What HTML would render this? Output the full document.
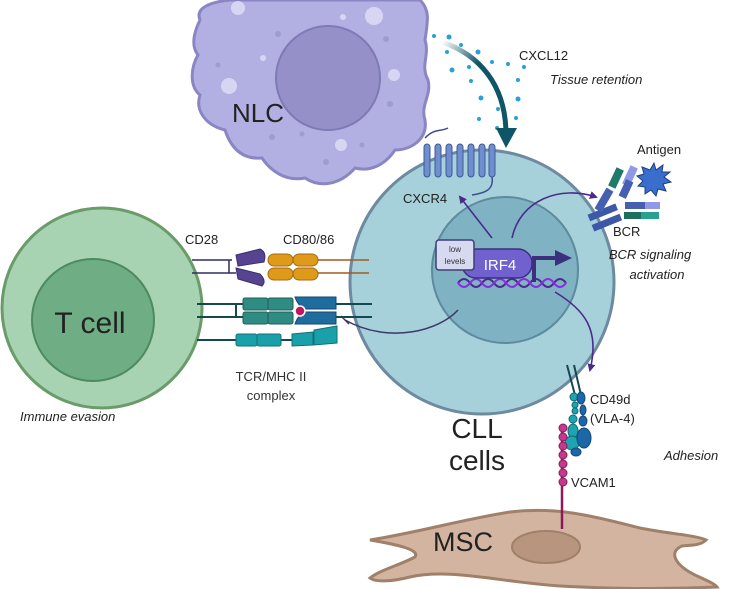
<!DOCTYPE html>
<html><head><meta charset="utf-8"><style>
html,body{margin:0;padding:0;background:#fff;}
svg{display:block;font-family:"Liberation Sans",sans-serif;}
</style></head><body>
<svg width="749" height="589" viewBox="0 0 749 589" xmlns="http://www.w3.org/2000/svg">
<defs>
<linearGradient id="ag" x1="0" y1="0" x2="1" y2="1"><stop offset="0" stop-color="#0e5566" stop-opacity="0"/><stop offset="0.4" stop-color="#0e5566"/><stop offset="1" stop-color="#0e5566"/></linearGradient>
<marker id="pa" markerWidth="8" markerHeight="8" refX="6" refY="4" orient="auto" markerUnits="userSpaceOnUse"><path d="M0,0 L8,4 L0,8 z" fill="#4b2a8e"/></marker>
</defs>
<!-- MSC -->
<path d="M370,540 C420,532 460,520 510,512 C560,506 600,518 640,528 C670,534 695,535 706,540 C700,546 690,545 682,546 C668,552 675,565 695,575 C708,581 715,584 717,587 C650,590 600,588 560,586 C500,582 450,568 410,577 C390,582 375,582 370,578 C380,570 400,565 415,557 C420,550 400,545 370,540 Z" fill="#d2b4a0" stroke="#a08068" stroke-width="3"/>
<ellipse cx="546" cy="547" rx="34" ry="16" fill="#b8957e" stroke="#a08068" stroke-width="2"/>
<text x="433" y="551" font-size="27" fill="#222">MSC</text>
<!-- NLC -->
<path d="M200,20 C195,8 210,2 230,0 L420,0 C430,10 428,20 425,40 C430,55 420,65 428,80 C432,95 420,105 425,120 C428,140 410,150 395,150 C385,165 370,172 355,168 C340,185 320,188 305,178 C285,182 270,170 262,158 C240,160 230,145 225,130 C205,125 195,110 200,95 C188,85 192,65 198,55 C190,45 195,30 200,20 Z" fill="#b2b0e2" stroke="#8a86c4" stroke-width="3"/>
<circle cx="328" cy="78" r="52" fill="#9591c8" stroke="#7e7ab5" stroke-width="2"/>
<g fill="#d7d6f2"><circle cx="238" cy="8" r="7"/><circle cx="374" cy="16" r="9"/><circle cx="229" cy="86" r="8"/><circle cx="394" cy="75" r="6"/><circle cx="341" cy="145" r="6"/><circle cx="263" cy="58" r="3"/><circle cx="343" cy="17" r="3"/></g>
<g fill="#9f9bd0"><circle cx="278" cy="34" r="3"/><circle cx="218" cy="65" r="2.5"/><circle cx="386" cy="39" r="3"/><circle cx="390" cy="104" r="3"/><circle cx="272" cy="137" r="3"/><circle cx="302" cy="134" r="2.5"/><circle cx="326" cy="162" r="3"/><circle cx="362" cy="145" r="2.5"/></g>
<text x="232" y="122" font-size="26" fill="#222">NLC</text>
<!-- CXCL12 dots -->
<g fill="#2aa0d8"><circle cx="434" cy="36" r="2"/><circle cx="449" cy="37" r="2.5"/><circle cx="461" cy="45" r="2"/><circle cx="478" cy="52" r="2.5"/><circle cx="447" cy="52" r="2"/><circle cx="452" cy="70" r="2.5"/><circle cx="469" cy="67" r="2"/><circle cx="492" cy="62" r="2"/><circle cx="508" cy="64" r="2"/><circle cx="524" cy="67" r="2"/><circle cx="481" cy="98" r="2.5"/><circle cx="518" cy="80" r="2"/><circle cx="518" cy="99" r="2.5"/><circle cx="479" cy="119" r="2"/><circle cx="497" cy="128" r="2"/><circle cx="516" cy="118" r="2"/><circle cx="471" cy="81" r="2"/><circle cx="498" cy="109" r="2"/></g>
<path d="M442,42 C480,55 505,85 506,132" fill="none" stroke="url(#ag)" stroke-width="5"/>
<path d="M496,128 L517,128 L506,148 Z" fill="#0e5566"/>
<text x="519" y="60" font-size="13" fill="#222">CXCL12</text>
<text x="550" y="84" font-size="13" font-style="italic" fill="#222">Tissue retention</text>
<!-- T cell -->
<circle cx="102" cy="308" r="100" fill="#a8d3b2" stroke="#6a9c6a" stroke-width="3"/>
<circle cx="93" cy="320" r="61" fill="#6fae84" stroke="#4d8a5e" stroke-width="2"/>
<text x="90" y="333" font-size="30" fill="#222" text-anchor="middle">T cell</text>
<text x="20" y="421" font-size="13" font-style="italic" fill="#222">Immune evasion</text>
<!-- CLL cell -->
<circle cx="482" cy="282" r="132" fill="#a6d0da" stroke="#6e8aa0" stroke-width="3"/>
<circle cx="505" cy="270" r="73" fill="#7fb2c2" stroke="#5d8a9c" stroke-width="2"/>
<text x="477" y="438" font-size="28" fill="#222" text-anchor="middle">CLL</text>
<text x="477" y="470" font-size="28" fill="#222" text-anchor="middle">cells</text>
<!-- CXCR4 -->
<path d="M425,138 C435,128 440,132 448,128" fill="none" stroke="#3d4f8e" stroke-width="1.5"/>
<g fill="#6f8ed0" stroke="#3d5a98" stroke-width="1">
<rect x="424" y="144" width="6" height="33" rx="3"/><rect x="435" y="144" width="6" height="33" rx="3"/><rect x="446" y="144" width="6" height="33" rx="3"/><rect x="457" y="144" width="6" height="33" rx="3"/><rect x="468" y="144" width="6" height="33" rx="3"/><rect x="479" y="144" width="6" height="33" rx="3"/><rect x="489" y="144" width="6" height="33" rx="3"/></g>
<path d="M492,177 C494,190 485,193 472,195" fill="none" stroke="#3d4f8e" stroke-width="1.5"/>
<text x="403" y="203" font-size="13" fill="#222">CXCR4</text>
<!-- IRF4 arrows -->
<path d="M492,238 L460,197" stroke="#4b2a8e" stroke-width="1.6" fill="none" marker-end="url(#pa)"/>
<path d="M512,238 C520,200 560,185 596,197" stroke="#4b2a8e" stroke-width="1.6" fill="none" marker-end="url(#pa)"/>
<path d="M555,292 C585,310 600,330 590,370" stroke="#4b2a8e" stroke-width="1.6" fill="none" marker-end="url(#pa)"/>
<path d="M458,310 C440,330 390,345 345,320" stroke="#3a3a6a" stroke-width="1.5" fill="none"/>
<path d="M341,316 L349,324" stroke="#3a3a6a" stroke-width="1.5"/>
<!-- DNA -->
<path d="M458,283 q6,-8 12,0 t12,0 t12,0 t12,0 t12,0 t12,0 t12,0 t12,0 t12,0" fill="none" stroke="#4b2a8e" stroke-width="2"/>
<path d="M458,283 q6,8 12,0 t12,0 t12,0 t12,0 t12,0 t12,0 t12,0 t12,0 t12,0" fill="none" stroke="#8a2be2" stroke-width="2"/>
<!-- IRF4 -->
<rect x="462" y="249" width="70" height="29" rx="14" fill="#7061cf" stroke="#3b2f80" stroke-width="1.5"/>
<text x="500" y="270" font-size="15" fill="#fff" text-anchor="middle">IRF4</text>
<rect x="436" y="240" width="38" height="30" rx="3" fill="#d6d9ef" stroke="#3b3f70" stroke-width="1.5"/>
<text x="455" y="252" font-size="8" fill="#333" text-anchor="middle">low</text>
<text x="455" y="264" font-size="8" fill="#333" text-anchor="middle">levels</text>
<path d="M534,282 L534,258 L556,258" fill="none" stroke="#3b2f80" stroke-width="4"/>
<path d="M555,250 L572,258 L555,266 Z" fill="#3b2f80"/>
<!-- BCR -->
<g transform="translate(615,208) rotate(-22)">
<rect x="-28" y="-4" width="30" height="7" fill="#3d58a8"/><rect x="-28" y="7" width="30" height="7" fill="#3d58a8"/>
</g>
<rect x="600" y="188" width="8" height="24" fill="#4560b0" transform="rotate(30 604 200)"/>
<rect x="612" y="168" width="8" height="20" fill="#1e7a6a" transform="rotate(25 616 178)"/>
<rect x="626" y="166" width="8" height="20" fill="#8e9ae8" transform="rotate(25 630 176)"/>
<rect x="622" y="180" width="8" height="18" fill="#4560b0" transform="rotate(25 626 189)"/>
<rect x="625" y="202" width="22" height="7" fill="#4560b0"/><rect x="645" y="202" width="15" height="7" fill="#8e9ae8"/>
<rect x="624" y="212" width="18" height="7" fill="#1e6e62"/><rect x="641" y="212" width="18" height="7" fill="#28a090"/>
<polygon points="650,170 654,163 656,170 663,165 662,172 670,172 664,177 671,182 663,184 666,191 658,189 656,196 651,190 645,194 645,187 638,186 643,181 637,176 644,174 642,167" fill="#3a6ecc" stroke="#1e3e80" stroke-width="1"/>
<text x="637" y="154" font-size="13" fill="#222">Antigen</text>
<text x="613" y="236" font-size="13" fill="#222">BCR</text>
<text x="650" y="259" font-size="13" font-style="italic" fill="#222" text-anchor="middle">BCR signaling</text>
<text x="657" y="279" font-size="13" font-style="italic" fill="#222" text-anchor="middle">activation</text>
<!-- CD28 / CD80 -->
<text x="185" y="244" font-size="13" fill="#222">CD28</text>
<text x="283" y="244" font-size="13" fill="#222">CD80/86</text>
<path d="M192,260 L232,260 M192,273 L236,273 M229,260 L229,273" stroke="#2e2e60" stroke-width="1.5"/>
<path d="M236,255 L260,249 Q267,252 264,262 L238,266 Z" fill="#574490" stroke="#3a2e70"/>
<path d="M236,268 L260,274 Q267,281 262,286 L238,279 Z" fill="#574490" stroke="#3a2e70"/>
<g fill="#e09a1a" stroke="#a66a10"><rect x="268" y="254" width="25" height="12" rx="6"/><rect x="293" y="254" width="25" height="12" rx="6"/><rect x="268" y="268" width="25" height="12" rx="6"/><rect x="293" y="268" width="25" height="12" rx="6"/></g>
<path d="M318,260 L369,260 M318,273 L369,273" stroke="#a05a20" stroke-width="1.5"/>
<!-- TCR/MHC -->
<path d="M197,304 L243,304 M197,317 L243,317 M236,304 L236,317" stroke="#124a50" stroke-width="2"/>
<g fill="#2e8c82" stroke="#1e5f58"><rect x="243" y="298" width="25" height="12" rx="2"/><rect x="268" y="298" width="25" height="12" rx="2"/><rect x="243" y="312" width="25" height="12" rx="2"/><rect x="268" y="312" width="25" height="12" rx="2"/></g>
<path d="M295,297 L336,297 L336,309 L305,309 Q298,306 295,297 Z M295,324 L336,324 L336,312 L305,312 Q298,315 295,324 Z" fill="#1f6c9e" stroke="#134a70"/>
<circle cx="300" cy="311" r="5" fill="#c0185a" stroke="#fff" stroke-width="1.5"/>
<path d="M336,304 L372,304 M336,317 L372,317" stroke="#124a50" stroke-width="2"/>
<path d="M197,340 L238,340 M281,340 L292,340" stroke="#124a50" stroke-width="2"/>
<g fill="#1aa0a8" stroke="#137077"><rect x="236" y="334" width="21" height="12" rx="2"/><rect x="257" y="334" width="24" height="12" rx="2"/><path d="M292,334 L313,332 L313,345 L292,346 Z"/><path d="M314,330 L337,326 L337,343 L314,345 Z"/></g>
<text x="271" y="381" font-size="13" fill="#333" text-anchor="middle">TCR/MHC II</text>
<text x="271" y="400" font-size="13" fill="#333" text-anchor="middle">complex</text>
<!-- CD49d / VCAM1 -->
<path d="M567,365 L575,395 M574,365 L581,395" stroke="#124a50" stroke-width="2"/>
<g fill="#1ea3b0" stroke="#136a75"><circle cx="574" cy="397" r="4"/><circle cx="575" cy="405" r="3"/><circle cx="575" cy="411" r="3"/><circle cx="573" cy="419" r="4"/><ellipse cx="573" cy="431" rx="5" ry="7"/><ellipse cx="572" cy="443" rx="7" ry="7"/></g>
<g fill="#1d66a8" stroke="#124a75"><ellipse cx="581" cy="398" rx="4" ry="6"/><ellipse cx="583" cy="410" rx="3" ry="5"/><ellipse cx="583" cy="421" rx="4" ry="5"/><ellipse cx="584" cy="438" rx="7" ry="10"/><ellipse cx="576" cy="452" rx="5" ry="4"/></g>
<path d="M562,430 L562,529" stroke="#8a1a5c" stroke-width="2.5"/>
<g fill="#c23a8e" stroke="#8a1a5c"><circle cx="563" cy="428" r="4"/><circle cx="563" cy="437" r="4"/><circle cx="563" cy="446" r="4"/><circle cx="563" cy="455" r="4"/><circle cx="563" cy="464" r="4"/><circle cx="563" cy="473" r="4"/><circle cx="563" cy="482" r="4"/></g>
<text x="590" y="404" font-size="13" fill="#222">CD49d</text>
<text x="590" y="423" font-size="13" fill="#222">(VLA-4)</text>
<text x="571" y="487" font-size="13" fill="#222">VCAM1</text>
<text x="664" y="460" font-size="13" font-style="italic" fill="#222">Adhesion</text>
</svg>
</body></html>
